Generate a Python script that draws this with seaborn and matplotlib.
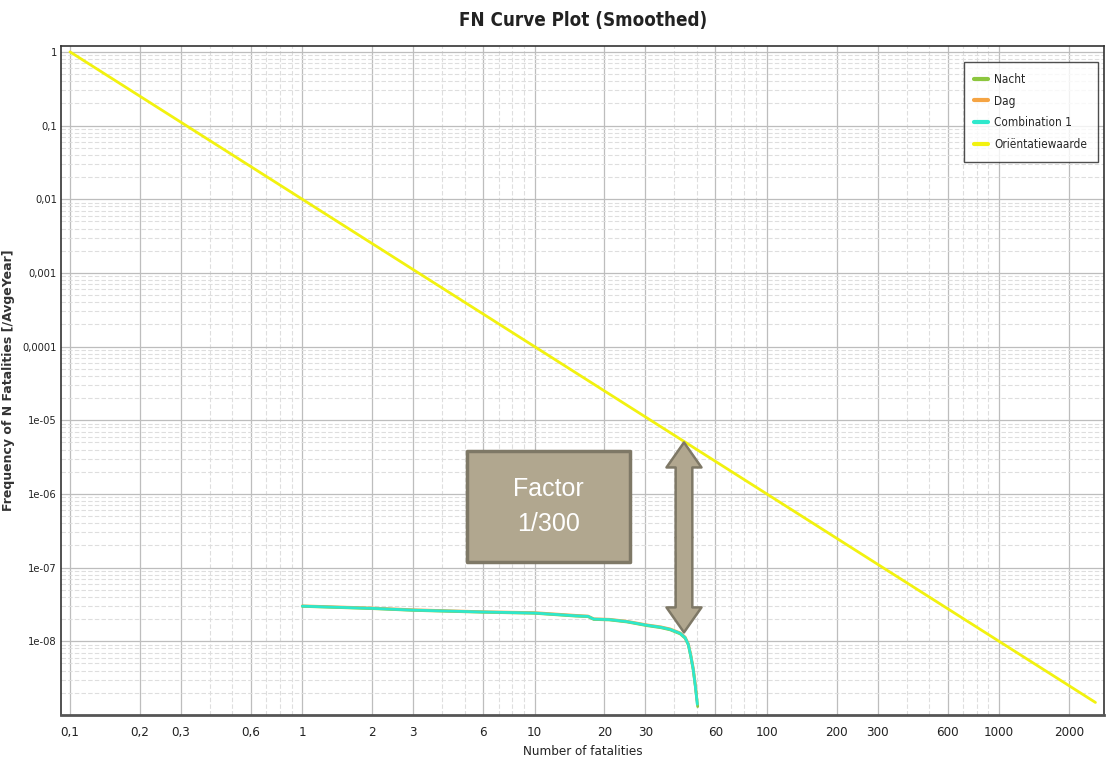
import numpy as np
import pandas as pd
import matplotlib
matplotlib.use("Agg")
import matplotlib.pyplot as plt
import matplotlib.ticker as mticker
from matplotlib.patches import FancyArrowPatch
import seaborn as sns

# --- data ---
n_comb = [1, 2, 3, 6, 10, 15, 17, 18, 21, 25, 30.5, 35, 38.4, 42.4, 44.5, 45.9, 47, 48.2, 49.2, 50.2]
f_comb = [3.0e-8, 2.8e-8, 2.65e-8, 2.5e-8, 2.42e-8, 2.22e-8, 2.18e-8, 2.0e-8, 1.97e-8, 1.85e-8,
          1.65e-8, 1.55e-8, 1.45e-8, 1.28e-8, 1.12e-8, 9.1e-9, 6.5e-9, 4.2e-9, 2.5e-9, 1.4e-9]

n_nacht = [1, 2, 3, 6, 10, 15, 17, 18, 21, 25, 30.5, 35, 38.4, 42.4, 44.5, 45.9, 47, 48.2, 49.4, 50.4]
f_nacht = [2.98e-8, 2.78e-8, 2.63e-8, 2.48e-8, 2.4e-8, 2.2e-8, 2.16e-8, 1.98e-8, 1.95e-8, 1.83e-8,
           1.63e-8, 1.53e-8, 1.43e-8, 1.26e-8, 1.1e-8, 9.0e-9, 6.4e-9, 4.1e-9, 2.3e-9, 1.3e-9]

n_dag = [1, 2, 3, 6, 10, 15, 17, 18, 21, 25, 30.5, 35, 38.4, 42.4, 44.5, 45.9, 47, 48.2, 49.2, 50.0]
f_dag = [3.03e-8, 2.83e-8, 2.68e-8, 2.52e-8, 2.45e-8, 2.25e-8, 2.2e-8, 2.02e-8, 1.99e-8, 1.87e-8,
         1.67e-8, 1.57e-8, 1.47e-8, 1.3e-8, 1.14e-8, 9.3e-9, 6.7e-9, 4.4e-9, 2.6e-9, 1.6e-9]

n_orient = [0.1, 1, 10, 100, 1000, 2600]
f_orient = [1, 1e-2, 1e-4, 1e-6, 1e-8, 1.48e-9]

series_names = ["Nacht", "Dag", "Combination 1", "Oriëntatiewaarde"]
series_colors = ["#8CC63E", "#F5A443", "#2EE8CC", "#F2F20F"]

x_ticks = [0.1, 0.2, 0.3, 0.6, 1, 2, 3, 6, 10, 20, 30, 60, 100, 200, 300, 600, 1000, 2000]
x_labels = ["0,1", "0,2", "0,3", "0,6", "1", "2", "3", "6", "10", "20", "30", "60",
            "100", "200", "300", "600", "1000", "2000"]
y_ticks = [1, 0.1, 0.01, 0.001, 0.0001, 1e-5, 1e-6, 1e-7, 1e-8]
y_labels = ["1", "0,1", "0,01", "0,001", "0,0001", "1e-05", "1e-06", "1e-07", "1e-08"]

# arrow / box annotation (data coords)
arrow_n = 44
arrow_top, arrow_bottom = 5.0e-6, 1.32e-8
box_n = (5.13, 25.8)
box_f = (1.2e-7, 3.83e-6)

df = pd.concat([
    pd.DataFrame({"N": n_nacht, "F": f_nacht, "series": "Nacht"}),
    pd.DataFrame({"N": n_dag, "F": f_dag, "series": "Dag"}),
    pd.DataFrame({"N": n_comb, "F": f_comb, "series": "Combination 1"}),
    pd.DataFrame({"N": n_orient, "F": f_orient, "series": "Oriëntatiewaarde"}),
])

sns.set_style("white")
plt.rcParams["font.family"] = ["DejaVu Sans"]
plt.rcParams["font.stretch"] = "condensed"
COND = dict(family="DejaVu Sans", stretch="condensed")

fig = plt.figure(figsize=(11.12, 7.62), dpi=100)
ax = fig.add_axes([0.0549, 0.0617, 0.9379, 0.8779])

sns.lineplot(data=df, x="N", y="F", hue="series", hue_order=series_names,
             palette=dict(zip(series_names, series_colors)), sort=False,
             estimator=None, linewidth=2.0, ax=ax)

ax.set_xscale("log")
ax.set_yscale("log")
ax.set_xlim(0.0915, 2830)
ax.set_ylim(1.0e-9, 1.2)

ax.xaxis.set_major_locator(mticker.FixedLocator(x_ticks))
ax.xaxis.set_major_formatter(mticker.FixedFormatter(x_labels))
ax.xaxis.set_minor_locator(mticker.LogLocator(base=10, subs=[4, 5, 7, 8, 9], numticks=20))
ax.xaxis.set_minor_formatter(mticker.NullFormatter())
ax.yaxis.set_major_locator(mticker.FixedLocator(y_ticks))
ax.yaxis.set_major_formatter(mticker.FixedFormatter(y_labels))
ax.yaxis.set_minor_locator(mticker.LogLocator(base=10, subs=np.arange(2, 10), numticks=20))
ax.yaxis.set_minor_formatter(mticker.NullFormatter())

ax.grid(which="major", color="#BDBDBD", linewidth=0.9, linestyle="-")
ax.grid(which="minor", color="#DEDEDE", linewidth=0.8, linestyle=(0, (4, 2)))
ax.tick_params(which="both", length=0, colors="#222222")
ax.tick_params(axis="x", pad=8, labelsize=9.5)
ax.tick_params(axis="y", pad=3, labelsize=8)
for lab in ax.get_xticklabels() + ax.get_yticklabels():
    lab.set_fontstretch("condensed")

for s in ax.spines.values():
    s.set_color("#333333")
    s.set_linewidth(1.2)
ax.spines["bottom"].set_color("#555555")
ax.spines["bottom"].set_linewidth(2)

ax.set_xlabel("Number of fatalities", fontsize=9.5, color="#222222", labelpad=4, **COND)
ax.set_ylabel("Frequency of N Fatalities [/AvgeYear]", fontsize=9, color="#333333",
              fontweight="bold", family="DejaVu Sans", fontstretch="normal")
ax.yaxis.set_label_coords(-0.0441, 0.5)
fig.suptitle("FN Curve Plot (Smoothed)", x=0.524, y=0.985, fontsize=13.5, fontweight="bold",
             color="#222222", **COND)

leg = ax.legend(loc="upper right", bbox_to_anchor=(0.9942, 0.976),
                prop=dict(size=8.5, family="DejaVu Sans", stretch="condensed"),
                handlelength=1.2, handletextpad=0.5, borderpad=0.9, labelspacing=0.75,
                fancybox=False, frameon=True, borderaxespad=0)
leg.get_frame().set_edgecolor("#222222")
leg.get_frame().set_linewidth(1.0)
for line in leg.get_lines():
    line.set_linewidth(3)

# annotation: factor box and double arrow
ax.fill_between(box_n, box_f[0], box_f[1], facecolor="#B1A78F", edgecolor="#7E7866",
                linewidth=2.5, zorder=5)
ax.text(np.sqrt(box_n[0] * box_n[1]), np.sqrt(box_f[0] * box_f[1]), "Factor\n1/300",
        ha="center", va="center", color="white", fontsize=18, linespacing=1.55,
        family="Liberation Sans", zorder=6)
arrow_mid = np.sqrt(arrow_top * arrow_bottom)
for end in (arrow_top, arrow_bottom):
    ax.add_patch(FancyArrowPatch((arrow_n, arrow_mid), (arrow_n, end),
                                 arrowstyle="simple,head_width=2.1,head_length=1.5,tail_width=1.0",
                                 mutation_scale=12, facecolor="#B1A78F", edgecolor="#7E7866",
                                 linewidth=1.8, zorder=6, shrinkA=0, shrinkB=0))
# cover the seam in the middle of the double arrow
ax.add_patch(FancyArrowPatch((arrow_n, arrow_mid / 1.6), (arrow_n, arrow_mid * 1.6),
                             arrowstyle="simple,head_width=0.01,head_length=0.01,tail_width=0.85",
                             mutation_scale=12, facecolor="#B1A78F", edgecolor="none",
                             zorder=7, shrinkA=0, shrinkB=0))

fig.savefig("out.png", dpi=100)
